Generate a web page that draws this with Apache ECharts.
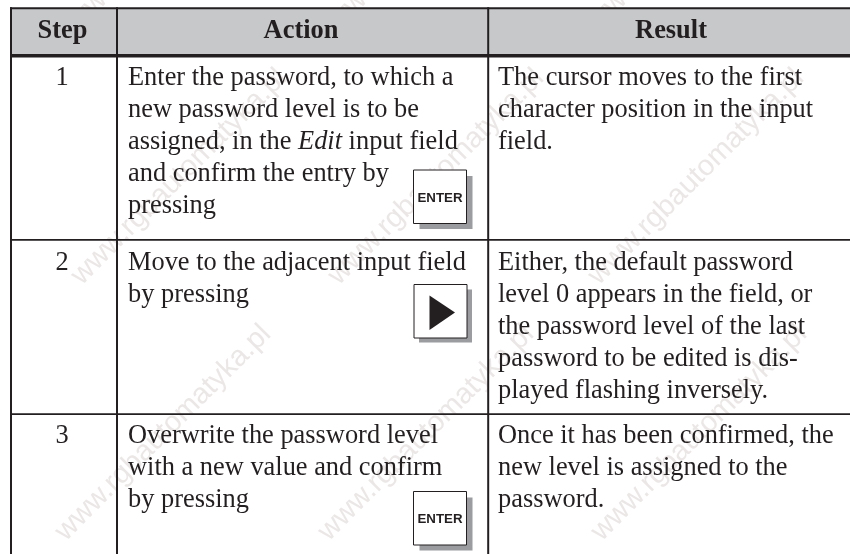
<!DOCTYPE html>
<html>
<head>
<meta charset="utf-8">
<style>
  html, body { margin: 0; padding: 0; background: #fff; }
  #chart { width: 850px; height: 554px; }
</style>
</head>
<body>
<div id="chart"></div>
<script src="https://cdn.jsdelivr.net/npm/echarts@6/dist/echarts.min.js"></script>
<script>
// table content
const headerLabels = ['Step', 'Action', 'Result']
const stepLabels = ['1', '2', '3']
const actionLines = [
  ['Enter the password, to which a', 'new password level is to be', 'assigned, in the {i|Edit} input field', 'and confirm the entry by', 'pressing'],
  ['Move to the adjacent input field', 'by pressing'],
  ['Overwrite the password level', 'with a new value and confirm', 'by pressing']
]
const resultLines = [
  ['The cursor moves to the first', 'character position in the input', 'field.'],
  ['Either, the default password', 'level 0 appears in the field, or', 'the password level of the last', 'password to be edited is dis-', 'played flashing inversely.'],
  ['Once it has been confirmed, the', 'new level is assigned to the', 'password.']
]
const keyLabels = ['ENTER', '', 'ENTER']
const watermarkText = 'www.rgbautomatyka.pl'

// layout
const ink = '#231f20'
const serif = '"Liberation Serif", serif'
const rowFirstLine = [78, 263, 436]
const lineStep = 32.1
const watermarkStarts = [[60, 536], [323, 536], [596, 536], [76, 280], [333, 280], [593, 280], [73, 25], [333, 25], [593, 25]]
const keyBoxes = [[413.5, 170, 6], [414, 284.5, 5], [413.5, 491.5, 6]]

const elements = []

const addRect = (x, y, width, height, fill, z) => {
  elements.push({ type: 'rect', z: z, shape: { x, y, width, height }, style: { fill } })
}

const addText = (text, x, y, align, opts) => {
  elements.push({
    type: 'text',
    z: 5,
    x: x,
    y: y,
    style: Object.assign({
      text: text,
      fill: ink,
      font: '26.4px ' + serif,
      textAlign: align,
      textVerticalAlign: 'middle',
      rich: { i: { fontStyle: 'italic', fontFamily: serif, fontSize: 26.4, fill: ink } }
    }, opts || {})
  })
}

// faint watermark, sits under everything else
watermarkStarts.forEach(p => {
  elements.push({
    type: 'text',
    z: 0,
    x: p[0],
    y: p[1],
    rotation: Math.PI / 4,
    style: {
      text: watermarkText,
      fill: '#ebe7e6',
      font: '29px "Liberation Sans", sans-serif',
      textAlign: 'left',
      textVerticalAlign: 'middle'
    }
  })
})

// header band and rules
addRect(11, 8, 839, 47, '#c6c8ca', 1)
addRect(10, 7.3, 840, 2, ink, 3)
addRect(10, 54, 840, 3.6, ink, 3)
addRect(10, 239, 840, 1.8, ink, 3)
addRect(10, 413.3, 840, 1.8, ink, 3)
addRect(10, 7.3, 2, 547, ink, 3)
addRect(116, 7.3, 2, 547, ink, 3)
addRect(487.2, 7.3, 2, 547, ink, 3)

// header
const headerCentres = [62.5, 301, 671]
headerLabels.forEach((label, i) => {
  addText(label, headerCentres[i], 31, 'center', { font: 'bold 26.4px ' + serif })
})

// rows
stepLabels.forEach((step, r) => {
  addText(step, 62, rowFirstLine[r], 'center')
  actionLines[r].forEach((line, i) => addText(line, 128, rowFirstLine[r] + i * lineStep, 'left'))
  resultLines[r].forEach((line, i) => addText(line, 498, rowFirstLine[r] + i * lineStep, 'left'))
})

// keys
keyBoxes.forEach((box, i) => {
  const x = box[0], y = box[1], off = box[2]
  addRect(x + off, y + off, 53, 53, '#9a9c9f', 6)
  elements.push({
    type: 'rect',
    z: 7,
    shape: { x: x, y: y, width: 53, height: 53.5 },
    style: { fill: '#fff', stroke: ink, lineWidth: 1 }
  })
  if (keyLabels[i]) {
    addText(keyLabels[i], x + 26.5, y + 28, 'center', { font: 'bold 13.3px "Liberation Sans", sans-serif' })
    elements[elements.length - 1].z = 8
  } else {
    elements.push({
      type: 'polygon',
      z: 8,
      shape: { points: [[x + 15.5, y + 11], [x + 41, y + 28], [x + 15.5, y + 45.5]] },
      style: { fill: ink }
    })
  }
})

const chart = echarts.init(document.getElementById('chart'))
chart.setOption({
  animation: false,
  backgroundColor: '#fff',
  graphic: { elements: elements }
})
</script>
</body>
</html>
